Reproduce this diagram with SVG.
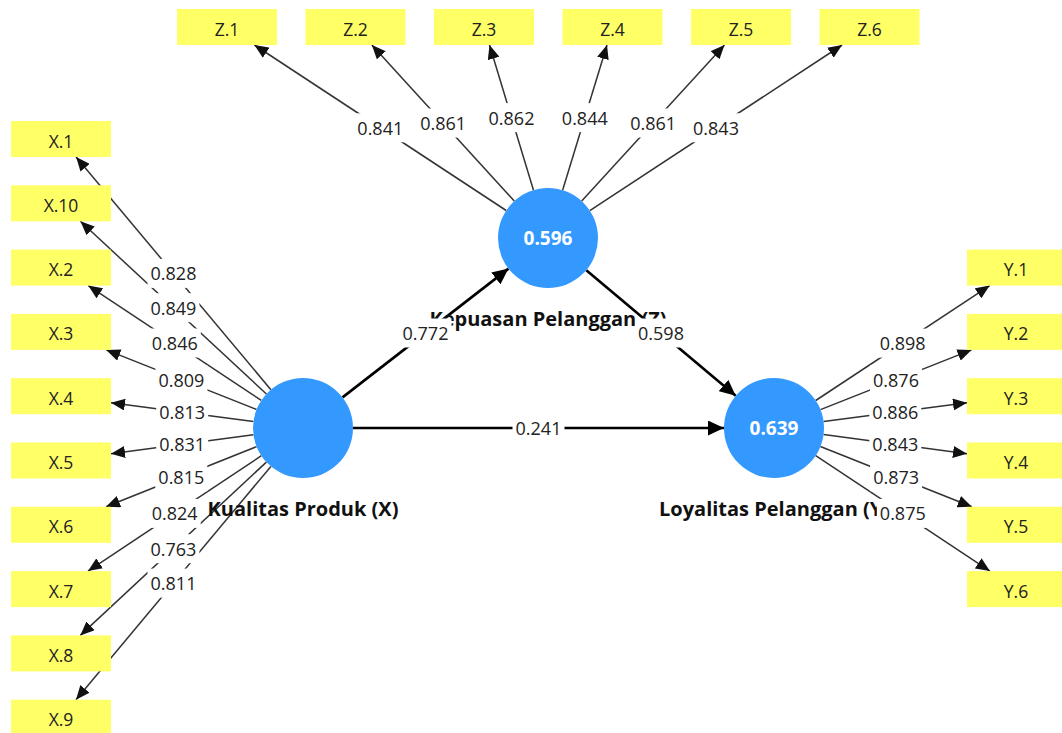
<svg xmlns="http://www.w3.org/2000/svg" width="1062" height="733" viewBox="0 0 1062 733">
  <defs>
    <marker id="headSmall" markerUnits="userSpaceOnUse" viewBox="0 0 14 12" markerWidth="14" markerHeight="12" refX="14" refY="6" orient="auto">
      <path d="M0,0 L14,6 L0,12 z" fill="#111"/>
    </marker>
    <marker id="headLarge" markerUnits="userSpaceOnUse" viewBox="0 0 16 15" markerWidth="16" markerHeight="15" refX="16" refY="7.5" orient="auto">
      <path d="M0,0 L16,7.5 L0,15 z" fill="#000"/>
    </marker>
    <style>
      .load { stroke: #333; stroke-width: 1.5; fill: none; marker-end: url(#headSmall); }
      .path { stroke: #000; stroke-width: 2.6; fill: none; marker-end: url(#headLarge); }
      .ind rect { fill: #ffff66; }
      .ind text { font-family: "Open Sans", "Noto Sans", sans-serif; font-size: 17.5px; fill: #222; text-anchor: middle; }
      .lv circle { fill: #3399ff; }
      .lv .val { font-family: "Open Sans", "Noto Sans", sans-serif; font-size: 19px; font-weight: bold; fill: #fff; text-anchor: middle; }
      .lv .name { font-family: "Open Sans", "Noto Sans", sans-serif; font-size: 20px; font-weight: bold; fill: #111; text-anchor: middle; }
      .lbl rect { fill: #fff; }
      .lbl text { font-family: "Open Sans", "Noto Sans", sans-serif; font-size: 18px; fill: #222; text-anchor: middle; }
    </style>
  </defs>

  <rect width="1062" height="733" fill="#fff"/>

  <!-- connector lines -->
  <g id="connectors">
    <!-- structural paths -->
    <line class="path" x1="342.5" y1="397.4" x2="508.5" y2="268.6"/>
    <line class="path" x1="586.3" y1="270.2" x2="735.7" y2="395.8"/>
    <line class="path" x1="353" y1="428" x2="724" y2="428"/>
    <!-- outer loadings: Kepuasan Pelanggan (Z) -->
    <line class="load" x1="506.2" y1="210.5" x2="254.4" y2="45"/>
    <line class="load" x1="514.3" y1="201.1" x2="371.9" y2="45"/>
    <line class="load" x1="533.5" y1="190.2" x2="489.5" y2="45"/>
    <line class="load" x1="562.6" y1="190.2" x2="607" y2="45"/>
    <line class="load" x1="581.7" y1="201.1" x2="724.5" y2="45"/>
    <line class="load" x1="589.8" y1="210.6" x2="842.1" y2="45"/>
    <!-- outer loadings: Kualitas Produk (X) -->
    <line class="load" x1="270.9" y1="389.7" x2="76.1" y2="157"/>
    <line class="load" x1="266.4" y1="394.0" x2="80.4" y2="221.3"/>
    <line class="load" x1="261.3" y1="400.4" x2="88.2" y2="285.6"/>
    <line class="load" x1="256.5" y1="409.5" x2="106.3" y2="349.9"/>
    <line class="load" x1="253.4" y1="421.5" x2="111" y2="402.8"/>
    <line class="load" x1="253.4" y1="434.7" x2="111" y2="453.8"/>
    <line class="load" x1="256.6" y1="446.6" x2="106" y2="506.8"/>
    <line class="load" x1="261.4" y1="455.7" x2="88" y2="571.1"/>
    <line class="load" x1="266.4" y1="462.1" x2="80.3" y2="635.4"/>
    <line class="load" x1="270.9" y1="466.4" x2="76" y2="699.7"/>
    <!-- outer loadings: Loyalitas Pelanggan (Y) -->
    <line class="load" x1="815.7" y1="400.5" x2="989.7" y2="285.6"/>
    <line class="load" x1="820.5" y1="409.6" x2="971.5" y2="349.9"/>
    <line class="load" x1="823.6" y1="421.5" x2="967" y2="402.7"/>
    <line class="load" x1="823.6" y1="434.6" x2="967" y2="453.8"/>
    <line class="load" x1="820.4" y1="446.5" x2="971.8" y2="506.8"/>
    <line class="load" x1="815.7" y1="455.6" x2="989.9" y2="571.1"/>
  </g>

  <!-- indicator boxes -->
  <g id="Z1" class="ind"><rect x="177" y="9" width="100" height="36"/><text x="227" y="35.5">Z.1</text></g>
  <g id="Z2" class="ind"><rect x="305.5" y="9" width="100" height="36"/><text x="355.5" y="35.5">Z.2</text></g>
  <g id="Z3" class="ind"><rect x="434" y="9" width="100" height="36"/><text x="484" y="35.5">Z.3</text></g>
  <g id="Z4" class="ind"><rect x="562.5" y="9" width="100" height="36"/><text x="612.5" y="35.5">Z.4</text></g>
  <g id="Z5" class="ind"><rect x="691" y="9" width="100" height="36"/><text x="741" y="35.5">Z.5</text></g>
  <g id="Z6" class="ind"><rect x="819.5" y="9" width="100" height="36"/><text x="869.5" y="35.5">Z.6</text></g>

  <g id="X1" class="ind"><rect x="11" y="121" width="100" height="36"/><text x="61" y="147.5">X.1</text></g>
  <g id="X10" class="ind"><rect x="11" y="185.3" width="100" height="36"/><text x="61" y="211.8">X.10</text></g>
  <g id="X2" class="ind"><rect x="11" y="249.6" width="100" height="36"/><text x="61" y="276.1">X.2</text></g>
  <g id="X3" class="ind"><rect x="11" y="313.9" width="100" height="36"/><text x="61" y="340.4">X.3</text></g>
  <g id="X4" class="ind"><rect x="11" y="378.2" width="100" height="36"/><text x="61" y="404.7">X.4</text></g>
  <g id="X5" class="ind"><rect x="11" y="442.5" width="100" height="36"/><text x="61" y="469">X.5</text></g>
  <g id="X6" class="ind"><rect x="11" y="506.8" width="100" height="36"/><text x="61" y="533.3">X.6</text></g>
  <g id="X7" class="ind"><rect x="11" y="571.1" width="100" height="36"/><text x="61" y="597.6">X.7</text></g>
  <g id="X8" class="ind"><rect x="11" y="635.4" width="100" height="36"/><text x="61" y="661.9">X.8</text></g>
  <g id="X9" class="ind"><rect x="11" y="699.7" width="100" height="36"/><text x="61" y="726.2">X.9</text></g>

  <g id="Y1" class="ind"><rect x="967" y="249.6" width="100" height="36"/><text x="1016" y="276.1">Y.1</text></g>
  <g id="Y2" class="ind"><rect x="967" y="313.9" width="100" height="36"/><text x="1016" y="340.4">Y.2</text></g>
  <g id="Y3" class="ind"><rect x="967" y="378.2" width="100" height="36"/><text x="1016" y="404.7">Y.3</text></g>
  <g id="Y4" class="ind"><rect x="967" y="442.5" width="100" height="36"/><text x="1016" y="469">Y.4</text></g>
  <g id="Y5" class="ind"><rect x="967" y="506.8" width="100" height="36"/><text x="1016" y="533.3">Y.5</text></g>
  <g id="Y6" class="ind"><rect x="967" y="571.1" width="100" height="36"/><text x="1016" y="597.6">Y.6</text></g>

  <!-- latent variables -->
  <g id="KualitasProduk" class="lv">
    <circle cx="303" cy="428" r="50"/>
    <text class="name" x="303" y="516">Kualitas Produk (X)</text>
  </g>
  <g id="KepuasanPelanggan" class="lv">
    <circle cx="548" cy="238" r="50"/>
    <text class="val" x="548" y="245">0.596</text>
    <text class="name" x="548" y="326">Kepuasan Pelanggan (Z)</text>
  </g>
  <g id="LoyalitasPelanggan" class="lv">
    <circle cx="774" cy="428" r="50"/>
    <text class="val" x="774" y="435">0.639</text>
    <text class="name" x="774" y="516">Loyalitas Pelanggan (Y)</text>
  </g>

  <!-- connector weights; their white backing hides whatever lies beneath -->
  <g id="connector-labels" class="lbl">
    <rect x="399.5" y="318.5" width="52" height="29"/><text x="425.5" y="340">0.772</text>
    <rect x="635" y="318.5" width="52" height="29"/><text x="661" y="340">0.598</text>
    <rect x="512.5" y="413.5" width="52" height="29"/><text x="538.5" y="435">0.241</text>

    <rect x="354.3" y="113.3" width="52" height="29"/><text x="380.3" y="134.8">0.841</text>
    <rect x="417.1" y="108.5" width="52" height="29"/><text x="443.1" y="130">0.861</text>
    <rect x="485.5" y="103.1" width="52" height="29"/><text x="511.5" y="124.6">0.862</text>
    <rect x="558.8" y="103.1" width="52" height="29"/><text x="584.8" y="124.6">0.844</text>
    <rect x="627.1" y="108.5" width="52" height="29"/><text x="653.1" y="130">0.861</text>
    <rect x="690" y="113.3" width="52" height="29"/><text x="716" y="134.8">0.843</text>

    <rect x="147.5" y="258.9" width="52" height="29"/><text x="173.5" y="280.4">0.828</text>
    <rect x="147.4" y="293.2" width="52" height="29"/><text x="173.4" y="314.7">0.849</text>
    <rect x="148.8" y="328.5" width="52" height="29"/><text x="174.8" y="350">0.846</text>
    <rect x="155.4" y="365.2" width="52" height="29"/><text x="181.4" y="386.7">0.809</text>
    <rect x="156.2" y="397.7" width="52" height="29"/><text x="182.2" y="419.2">0.813</text>
    <rect x="156.2" y="429.7" width="52" height="29"/><text x="182.2" y="451.2">0.831</text>
    <rect x="155.3" y="462.2" width="52" height="29"/><text x="181.3" y="483.7">0.815</text>
    <rect x="148.7" y="498.9" width="52" height="29"/><text x="174.7" y="520.4">0.824</text>
    <rect x="147.4" y="534.2" width="52" height="29"/><text x="173.4" y="555.7">0.763</text>
    <rect x="147.5" y="568.6" width="52" height="29"/><text x="173.5" y="590.1">0.811</text>

    <rect x="876.7" y="328.6" width="52" height="29"/><text x="902.7" y="350.1">0.898</text>
    <rect x="870" y="365.3" width="52" height="29"/><text x="896" y="386.8">0.876</text>
    <rect x="869.3" y="397.6" width="52" height="29"/><text x="895.3" y="419.1">0.886</text>
    <rect x="869.3" y="429.7" width="52" height="29"/><text x="895.3" y="451.2">0.843</text>
    <rect x="870.1" y="462.2" width="52" height="29"/><text x="896.1" y="483.7">0.873</text>
    <rect x="876.8" y="498.9" width="52" height="29"/><text x="902.8" y="520.4">0.875</text>
  </g>
</svg>
